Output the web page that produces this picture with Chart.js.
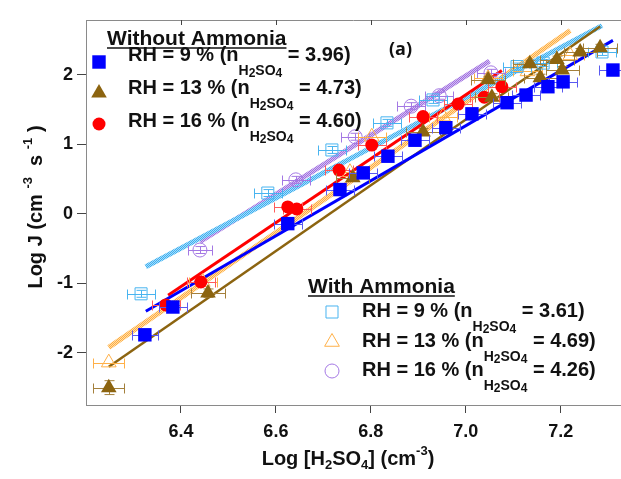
<!DOCTYPE html>
<html>
<head>
<meta charset="utf-8">
<script src="https://cdn.jsdelivr.net/npm/chart.js@4.4.0/dist/chart.umd.min.js"></script>
<style>
  html, body { margin: 0; padding: 0; background: #fff; overflow: hidden; }
</style>
</head>
<body>
<canvas id="nucChart" width="621" height="479"></canvas>
<script>
// log10 [H2SO4] (cm-3) vs log10 J (cm-3 s-1)
const xTicks = [6.4, 6.6, 6.8, 7.0, 7.2];
const yTicks = [-2, -1, 0, 1, 2];

// without ammonia
const rh9X = [6.324, 6.383, 6.625, 6.735, 6.784, 6.836, 6.893, 6.958, 7.013, 7.087, 7.127, 7.173, 7.205, 7.310];
const rh9Y = [-1.74, -1.34, -0.14, 0.35, 0.59, 0.83, 1.06, 1.24, 1.44, 1.60, 1.71, 1.83, 1.90, 2.07];
const rh9Err = [0.028, 0.03, 0.03, 0.03, 0.03, 0.03, 0.03, 0.03, 0.03, 0.03, 0.03, 0.03, 0.03, 0.03];

const rh13X = [6.248, 6.457, 6.762, 6.910, 7.047, 7.055, 7.135, 7.157, 7.192, 7.203, 7.241, 7.283];
const rh13Y = [-2.50, -1.14, 0.52, 1.18, 1.93, 1.68, 2.16, 1.96, 2.22, 2.07, 2.33, 2.39];
const rh13Err = [0.033, 0.035, 0.035, 0.035, 0.035, 0.035, 0.035, 0.035, 0.035, 0.035, 0.035, 0.035];
const rh13YErr = [0.1, 0.06, 0.05, 0.05, 0.05, 0.05, 0.05, 0.05, 0.05, 0.05, 0.05, 0.05];

const rh16X = [6.368, 6.442, 6.625, 6.644, 6.733, 6.802, 6.910, 6.984, 7.039, 7.076];
const rh16Y = [-1.31, -0.98, 0.10, 0.07, 0.63, 0.99, 1.40, 1.58, 1.68, 1.83];
const rh16Err = [0.03, 0.03, 0.03, 0.03, 0.03, 0.03, 0.03, 0.03, 0.03, 0.03];

// with ammonia
const nh9X = [6.316, 6.583, 6.718, 6.834, 6.931, 7.108, 7.163, 7.287];
const nh9Y = [-1.15, 0.30, 0.92, 1.31, 1.64, 2.12, 2.17, 2.33];
const nh9Err = [0.03, 0.03, 0.03, 0.03, 0.03, 0.03, 0.03, 0.03];
const nh9YErr = [0.05, 0.05, 0.05, 0.05, 0.05, 0.05, 0.05, 0.05];

const nh13X = [6.248, 6.446, 6.756, 6.802, 6.952, 7.047, 7.130, 7.220];
const nh13Y = [-2.14, -0.98, 0.60, 1.11, 1.40, 1.95, 2.05, 2.28];
const nh13Err = [0.033, 0.03, 0.03, 0.03, 0.03, 0.03, 0.03, 0.03];

const nh16X = [6.440, 6.642, 6.767, 6.885, 6.944, 7.053];
const nh16Y = [-0.52, 0.49, 1.11, 1.55, 1.70, 2.03];
const nh16Err = [0.025, 0.03, 0.03, 0.03, 0.03, 0.03];
const nh16YErr = [0.05, 0.05, 0.05, 0.05, 0.05, 0.05];

// power-law fits: slope n, x range, log J at the start of the range
const fitN = [3.96, 4.73, 4.60, 3.61, 4.69, 4.26];
const fitX0 = [6.326, 6.248, 6.373, 6.326, 6.248, 6.440];
const fitX1 = [7.310, 7.283, 7.076, 7.287, 7.220, 7.050];
const fitY0 = [-1.40, -2.20, -1.17, -0.76, -1.92, -0.40];

const FONT = '"Liberation Sans", Arial, sans-serif';

const canvas = document.getElementById('nucChart');
const ctx0 = canvas.getContext('2d');

// 2x2 checker used for the textured fit lines
function hatch(c1, c2) {
  const p = document.createElement('canvas');
  p.width = 2; p.height = 2;
  const g = p.getContext('2d');
  g.fillStyle = c2; g.fillRect(0, 0, 2, 2);
  g.fillStyle = c1; g.fillRect(0, 0, 1, 1); g.fillRect(1, 1, 1, 1);
  return ctx0.createPattern(p, 'repeat');
}

const pts = (xs, ys) => xs.map((x, i) => ({ x: x, y: ys[i] }));

function fitLine(i) {
  return [
    { x: fitX0[i], y: fitY0[i] },
    { x: fitX1[i], y: fitY0[i] + fitN[i] * (fitX1[i] - fitX0[i]) }
  ];
}

const series = [
  { data: pts(rh9X, rh9Y), xErr: rh9Err, errColor: '#5a5af0', pointStyle: 'rect', pointRadius: 9.5,
    backgroundColor: '#0000ff', borderColor: '#0000ff', borderWidth: 0 },
  { data: pts(rh13X, rh13Y), xErr: rh13Err, yErr: rh13YErr, errColor: '#a4803c', pointStyle: 'triangle', pointRadius: 9,
    backgroundColor: '#8c6410', borderColor: '#8c6410', borderWidth: 0 },
  { data: pts(rh16X, rh16Y), xErr: rh16Err, errColor: '#ff5a5a', pointStyle: 'circle', pointRadius: 6.5,
    backgroundColor: '#ff0000', borderColor: '#ff0000', borderWidth: 0 },
  { data: pts(nh9X, nh9Y), xErr: nh9Err, yErr: nh9YErr, errColor: '#48b4f0',
    pointStyle: 'rect', pointRadius: 8.5, backgroundColor: 'rgba(0,0,0,0)', borderColor: '#48b4f0', borderWidth: 1 },
  { data: pts(nh13X, nh13Y), xErr: nh13Err, errColor: '#ffb048', pointStyle: 'triangle', pointRadius: 8.5,
    backgroundColor: 'rgba(0,0,0,0)', borderColor: '#ffb048', borderWidth: 1 },
  { data: pts(nh16X, nh16Y), xErr: nh16Err, yErr: nh16YErr, errColor: '#a478e4',
    pointStyle: 'circle', pointRadius: 7, backgroundColor: 'rgba(0,0,0,0)', borderColor: '#a478e4', borderWidth: 1 }
];

const fitStyles = [
  { borderColor: '#0000ff', borderWidth: 3 },
  { borderColor: '#8c6410', borderWidth: 2.5 },
  { borderColor: '#ff0000', borderWidth: 3 },
  { borderColor: hatch('#3cb0f0', '#a8dcfa'), borderWidth: 5 },
  { borderColor: hatch('#ffae40', '#ffdca8'), borderWidth: 5 },
  { borderColor: hatch('#a070e0', '#d4bff2'), borderWidth: 5 }
];

const datasets = [];
series.forEach(s => datasets.push(Object.assign({ showLine: false, pointHoverRadius: s.pointRadius }, s)));
fitStyles.forEach((f, i) => datasets.push(Object.assign({
  data: fitLine(i), showLine: true, pointRadius: 0, fill: false
}, f)));

// text runs with sub/superscripts:
// 0 normal, 1 subscript, 2 subscript of subscript, 3 superscript, 4 shallow subscript
const RICH = [
  { s: 1, dy: 0 }, { s: 0.7, dy: 0.68 }, { s: 0.58, dy: 0.78 }, { s: 0.66, dy: -0.5 }, { s: 0.66, dy: 0.2 }
];
function richWidth(ctx, parts, size) {
  let w = 0;
  for (const [t, k] of parts) {
    ctx.font = `bold ${Math.round(size * RICH[k].s)}px ${FONT}`;
    w += ctx.measureText(t).width;
  }
  return w;
}
function drawRich(ctx, x, y, parts, size) {
  let cx = x;
  for (const [t, k] of parts) {
    ctx.font = `bold ${Math.round(size * RICH[k].s)}px ${FONT}`;
    ctx.fillText(t, cx, y + size * RICH[k].dy);
    cx += ctx.measureText(t).width;
  }
  return cx - x;
}

function marker(ctx, shape, x, y, r, fill, stroke) {
  ctx.beginPath();
  if (shape === 'rect') {
    const h = r * Math.SQRT1_2;
    ctx.rect(x - h, y - h, 2 * h, 2 * h);
  } else if (shape === 'triangle') {
    ctx.moveTo(x, y - r);
    ctx.lineTo(x + r * 0.866, y + r * 0.5);
    ctx.lineTo(x - r * 0.866, y + r * 0.5);
    ctx.closePath();
  } else {
    ctx.arc(x, y, r, 0, Math.PI * 2);
  }
  if (fill) { ctx.fillStyle = fill; ctx.fill(); }
  if (stroke) { ctx.strokeStyle = stroke; ctx.lineWidth = 1; ctx.stroke(); }
}

const errorBars = {
  id: 'errorBars',
  beforeDatasetDraw(chart, args) {
    const ds = chart.data.datasets[args.index];
    if (!ds.xErr) return;
    const { ctx, scales: { x, y } } = chart;
    ctx.save();
    ctx.strokeStyle = ds.errColor;
    ctx.lineWidth = 1;
    ctx.beginPath();
    ds.data.forEach((p, i) => {
      const px = x.getPixelForValue(p.x), py = Math.round(y.getPixelForValue(p.y)) + 0.5;
      const x0 = Math.round(x.getPixelForValue(p.x - ds.xErr[i])) + 0.5;
      const x1 = Math.round(x.getPixelForValue(p.x + ds.xErr[i])) + 0.5;
      ctx.moveTo(x0, py); ctx.lineTo(x1, py);
      ctx.moveTo(x0, py - 5); ctx.lineTo(x0, py + 5);
      ctx.moveTo(x1, py - 5); ctx.lineTo(x1, py + 5);
      if (ds.yErr) {
        const cx = Math.round(px) + 0.5;
        const y0 = y.getPixelForValue(p.y - ds.yErr[i]), y1 = y.getPixelForValue(p.y + ds.yErr[i]);
        ctx.moveTo(cx, y0); ctx.lineTo(cx, y1);
        ctx.moveTo(cx - 5, y0); ctx.lineTo(cx + 5, y0);
        ctx.moveTo(cx - 5, y1); ctx.lineTo(cx + 5, y1);
      }
    });
    ctx.stroke();
    ctx.restore();
  }
};

// top frame line with inward ticks, axis titles, legends and panel label
const decorations = {
  id: 'decorations',
  afterDraw(chart) {
    const { ctx, chartArea: a, scales: { x } } = chart;
    ctx.save();
    ctx.strokeStyle = '#8a8a8a';
    ctx.lineWidth = 1;
    ctx.beginPath();
    ctx.moveTo(a.left, a.top + 0.5); ctx.lineTo(chart.width, a.top + 0.5);
    ctx.stroke();
    ctx.strokeStyle = '#444';
    ctx.beginPath();
    xTicks.forEach(v => {
      const px = Math.round(x.getPixelForValue(v)) + 0.5;
      ctx.moveTo(px, a.top); ctx.lineTo(px, a.top + 5);
    });
    ctx.stroke();

    ctx.fillStyle = '#111';
    ctx.textBaseline = 'alphabetic';
    ctx.textAlign = 'left';

    // x title
    const xt = [['Log [H', 0], ['2', 4], ['SO', 0], ['4', 4], ['] (cm', 0], ['-3', 3], [')', 0]];
    const xw = richWidth(ctx, xt, 19.5);
    drawRich(ctx, 348 - xw / 2, 465, xt, 19.5);

    // y title
    const yt = [['Log J (cm ', 0], ['-3', 3], ['  s ', 0], ['-1', 3], [' )', 0]];
    const yw = richWidth(ctx, yt, 19.5);
    ctx.save();
    ctx.translate(42, 207);
    ctx.rotate(-Math.PI / 2);
    drawRich(ctx, -yw / 2, 0, yt, 19.5);
    ctx.restore();

    // panel label
    ctx.font = `bold 18px "Open Sans", ${FONT}`;
    ctx.fillText('(a)', 389, 55);

    const legend = (title, tx, ty, mx, my, tX, tY, rows) => {
      ctx.fillStyle = '#111';
      ctx.font = `bold 21px ${FONT}`;
      ctx.fillText(title, tx, ty);
      const tw = ctx.measureText(title).width;
      ctx.strokeStyle = '#111';
      ctx.lineWidth = 1.5;
      ctx.beginPath();
      ctx.moveTo(tx, ty + 3); ctx.lineTo(tx + tw, ty + 3);
      ctx.stroke();
      rows.forEach((r, i) => {
        const s = series[r.idx];
        const filled = s.borderWidth === 0;
        marker(ctx, s.pointStyle, mx, my[i], s.pointRadius, filled ? s.backgroundColor : null, filled ? null : s.borderColor);
        ctx.fillStyle = '#111';
        drawRich(ctx, tX, tY[i], [[r.rh, 0], ['H', 1], ['2', 2], ['SO', 1], ['4', 2], [r.n, 0]], 20);
      });
    };
    legend('Without Ammonia', 107, 45, 99, [62, 93, 124], 128, [61, 94, 127], [
      { idx: 0, rh: 'RH = 9 % (n', n: ' = 3.96)' },
      { idx: 1, rh: 'RH = 13 % (n', n: ' = 4.73)' },
      { idx: 2, rh: 'RH = 16 % (n', n: ' = 4.60)' }
    ]);
    legend('With Ammonia', 308, 293, 332, [312, 342, 371], 362, [317, 347, 376], [
      { idx: 3, rh: 'RH = 9 % (n', n: ' = 3.61)' },
      { idx: 4, rh: 'RH = 13 % (n', n: ' = 4.69)' },
      { idx: 5, rh: 'RH = 16 % (n', n: ' = 4.26)' }
    ]);
    ctx.restore();
  }
};

const tickFont = { family: FONT, size: 18, weight: 'bold' };

new Chart(canvas, {
  type: 'scatter',
  data: { datasets: datasets },
  options: {
    responsive: false,
    animation: false,
    events: [],
    layout: { autoPadding: false, padding: { top: 20, right: 0, left: 0, bottom: 0 } },
    plugins: {
      legend: { display: false },
      tooltip: { enabled: false },
      title: { display: false }
    },
    scales: {
      x: {
        type: 'linear',
        min: 6.2,
        max: 7.327,
        afterBuildTicks: axis => { axis.ticks = xTicks.map(v => ({ value: v })); },
        afterFit: axis => { axis.height = 74; axis.paddingLeft = 0; axis.paddingRight = 0; },
        border: { display: true, color: '#8a8a8a', width: 1 },
        grid: { drawOnChartArea: false, drawTicks: true, tickLength: 8, tickColor: '#444' },
        ticks: {
          color: '#111', font: tickFont, padding: 8, maxRotation: 0, autoSkip: false,
          callback: v => v.toFixed(1)
        }
      },
      y: {
        type: 'linear',
        min: -2.75,
        max: 2.79,
        afterBuildTicks: axis => { axis.ticks = yTicks.map(v => ({ value: v })); },
        afterFit: axis => { axis.width = 86; axis.paddingTop = 0; axis.paddingBottom = 0; },
        border: { display: true, color: '#8a8a8a', width: 1 },
        grid: { drawOnChartArea: false, drawTicks: true, tickLength: 9, tickColor: '#444' },
        ticks: { color: '#111', font: tickFont, padding: 4, callback: v => String(v) }
      }
    }
  },
  plugins: [errorBars, decorations]
});
</script>
</body>
</html>
